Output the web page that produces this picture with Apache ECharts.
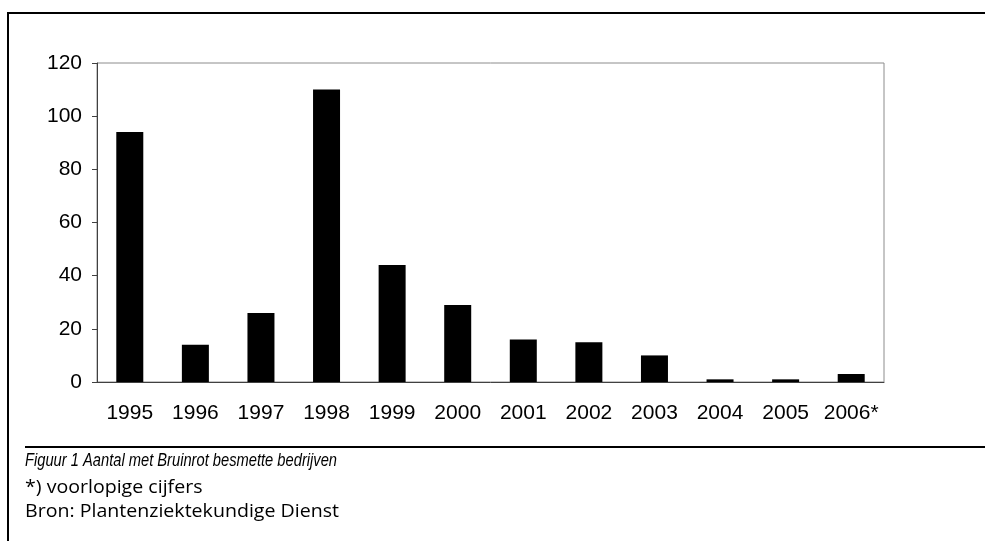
<!DOCTYPE html>
<html>
<head>
<meta charset="utf-8">
<script src="https://cdn.jsdelivr.net/npm/echarts@6/dist/echarts.min.js"></script>
<style>
	html, body { margin: 0; padding: 0; background: #fff; }
	#chart { width: 985px; height: 541px; }
</style>
</head>
<body>
<div id="chart"></div>
<script>
// gegevens
var jaren = ['1995', '1996', '1997', '1998', '1999', '2000', '2001', '2002', '2003', '2004', '2005', '2006*'];
var bedrijven = [94, 14, 26, 110, 44, 29, 16, 15, 10, 1, 1, 3];
var yTicks = [0, 20, 40, 60, 80, 100, 120];
var onderschrift = 'Figuur 1 Aantal met Bruinrot besmette bedrijven';
var noten = ['*) voorlopige cijfers', 'Bron: Plantenziektekundige Dienst'];

var ec = echarts.init(document.getElementById('chart'));
var axisFont = '"Liberation Sans", Arial, sans-serif';
var captionFont = '"Open Sans", "Liberation Sans", sans-serif';
var italicFont = '"Liberation Sans", Arial, sans-serif';

// tekst breedte meten, om het smalle lettertype van het origineel na te doen
var meet = document.createElement('canvas').getContext('2d');
function schaal(tekst, font, breedte) {
	meet.font = font;
	return breedte / meet.measureText(tekst).width;
}

function regel(tekst, y, opt) {
	return {
		type: 'text',
		x: 25,
		y: y,
		scaleX: opt.sx,
		style: {
			x: 0,
			y: 0,
			text: tekst,
			fontSize: opt.size,
			fontStyle: opt.italic ? 'italic' : 'normal',
			fontFamily: opt.family,
			verticalAlign: 'middle',
			align: 'left',
			fill: '#000'
		}
	};
}

var sxTitel = schaal(onderschrift, 'italic 19px ' + italicFont, 312);
var sxNoot = schaal(noten[1], '18px ' + captionFont, 314);

ec.setOption({
	animation: false,
	backgroundColor: '#fff',
	grid: {
		left: 97,
		right: 101,
		top: 63,
		bottom: 159,
		show: true,
		borderColor: '#8c8c8c',
		borderWidth: 1,
		backgroundColor: 'transparent'
	},
	xAxis: {
		type: 'category',
		data: jaren,
		axisLine: {
			lineStyle: {
				color: '#404040',
				width: 1
			}
		},
		axisTick: {
			length: 5,
			lineStyle: {
				color: '#404040'
			}
		},
		axisLabel: {
			interval: 0,
			margin: 21,
			color: '#000',
			fontSize: 21,
			fontFamily: axisFont
		}
	},
	yAxis: {
		type: 'value',
		min: yTicks[0],
		max: yTicks[yTicks.length - 1],
		interval: 20,
		axisLine: {
			show: true,
			lineStyle: {
				color: '#404040',
				width: 1
			}
		},
		axisTick: {
			show: true,
			length: 5,
			lineStyle: {
				color: '#404040'
			}
		},
		splitLine: {
			show: false
		},
		axisLabel: {
			margin: 15,
			color: '#000',
			fontSize: 21,
			fontFamily: axisFont
		}
	},
	series: [{
		type: 'bar',
		data: bedrijven,
		barWidth: 27,
		itemStyle: {
			color: '#000'
		}
	}],
	graphic: [{
		type: 'polyline',
		shape: {
			points: [[985, 13], [8, 13], [8, 541]]
		},
		style: {
			stroke: '#000',
			lineWidth: 2,
			fill: null
		}
	}, {
		type: 'line',
		shape: { x1: 25, y1: 447, x2: 985, y2: 447 },
		style: { stroke: '#000', lineWidth: 2 }
	},
		regel(onderschrift, 461, { size: 19, italic: true, family: italicFont, sx: sxTitel }),
		regel(noten[0], 488, { size: 18, family: captionFont, sx: sxNoot }),
		regel(noten[1], 512, { size: 18, family: captionFont, sx: sxNoot })
	]
});
</script>
</body>
</html>
